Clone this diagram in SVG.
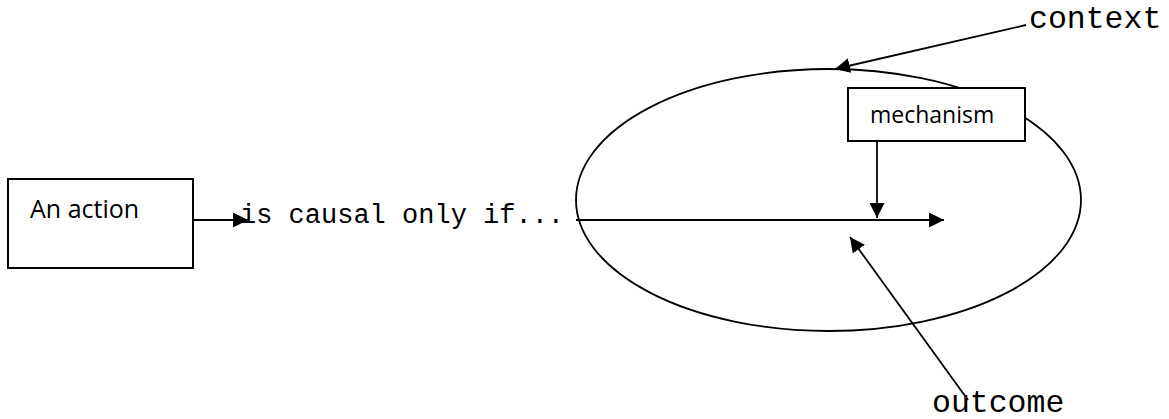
<svg xmlns="http://www.w3.org/2000/svg" width="1169" height="419" viewBox="0 0 1169 419">
<style>
.box{fill:#fff;stroke:#000;stroke-width:2}
.ln{fill:none;stroke:#000;stroke-width:1.8}
.sans{font-family:"Open Sans","Liberation Sans",sans-serif;fill:#000}
.mono{font-family:"Liberation Mono","Courier New",monospace;fill:#000}
</style>
<defs>
<marker id="ah" viewBox="0 0 15 15" refX="15" refY="7.5" markerWidth="15" markerHeight="15" markerUnits="userSpaceOnUse" orient="auto">
<path d="M0,0 L15,7.5 L0,15 Z" fill="#000"/>
</marker>
</defs>
<g id="context">
<ellipse cx="828.5" cy="200" rx="252.5" ry="131" class="ln"/>
<text x="1029" y="28" class="mono" font-size="31.5">context</text>
</g>
<g id="action">
<rect x="8" y="179" width="185" height="89" class="box"/>
<text x="30" y="218" class="sans" font-size="25">An action</text>
</g>
<g id="causal">
<text x="240" y="223" class="mono" font-size="27">is causal only if...</text>
</g>
<g id="mechanism">
<rect x="848" y="88" width="177" height="53" class="box"/>
<text x="870" y="123" class="sans" font-size="23">mechanism</text>
</g>
<g id="outcome">
<text x="932" y="412" class="mono" font-size="31.5">outcome</text>
</g>
<g id="connectors">
<line x1="193" y1="220" x2="248" y2="220" class="ln" marker-end="url(#ah)"/>
<line x1="576" y1="220" x2="944" y2="220" class="ln" marker-end="url(#ah)"/>
<line x1="877" y1="141" x2="877" y2="218" class="ln" marker-end="url(#ah)"/>
<line x1="1026" y1="25" x2="835" y2="69" class="ln" marker-end="url(#ah)"/>
<line x1="968" y1="400" x2="850" y2="237" class="ln" marker-end="url(#ah)"/>
</g>
</svg>
